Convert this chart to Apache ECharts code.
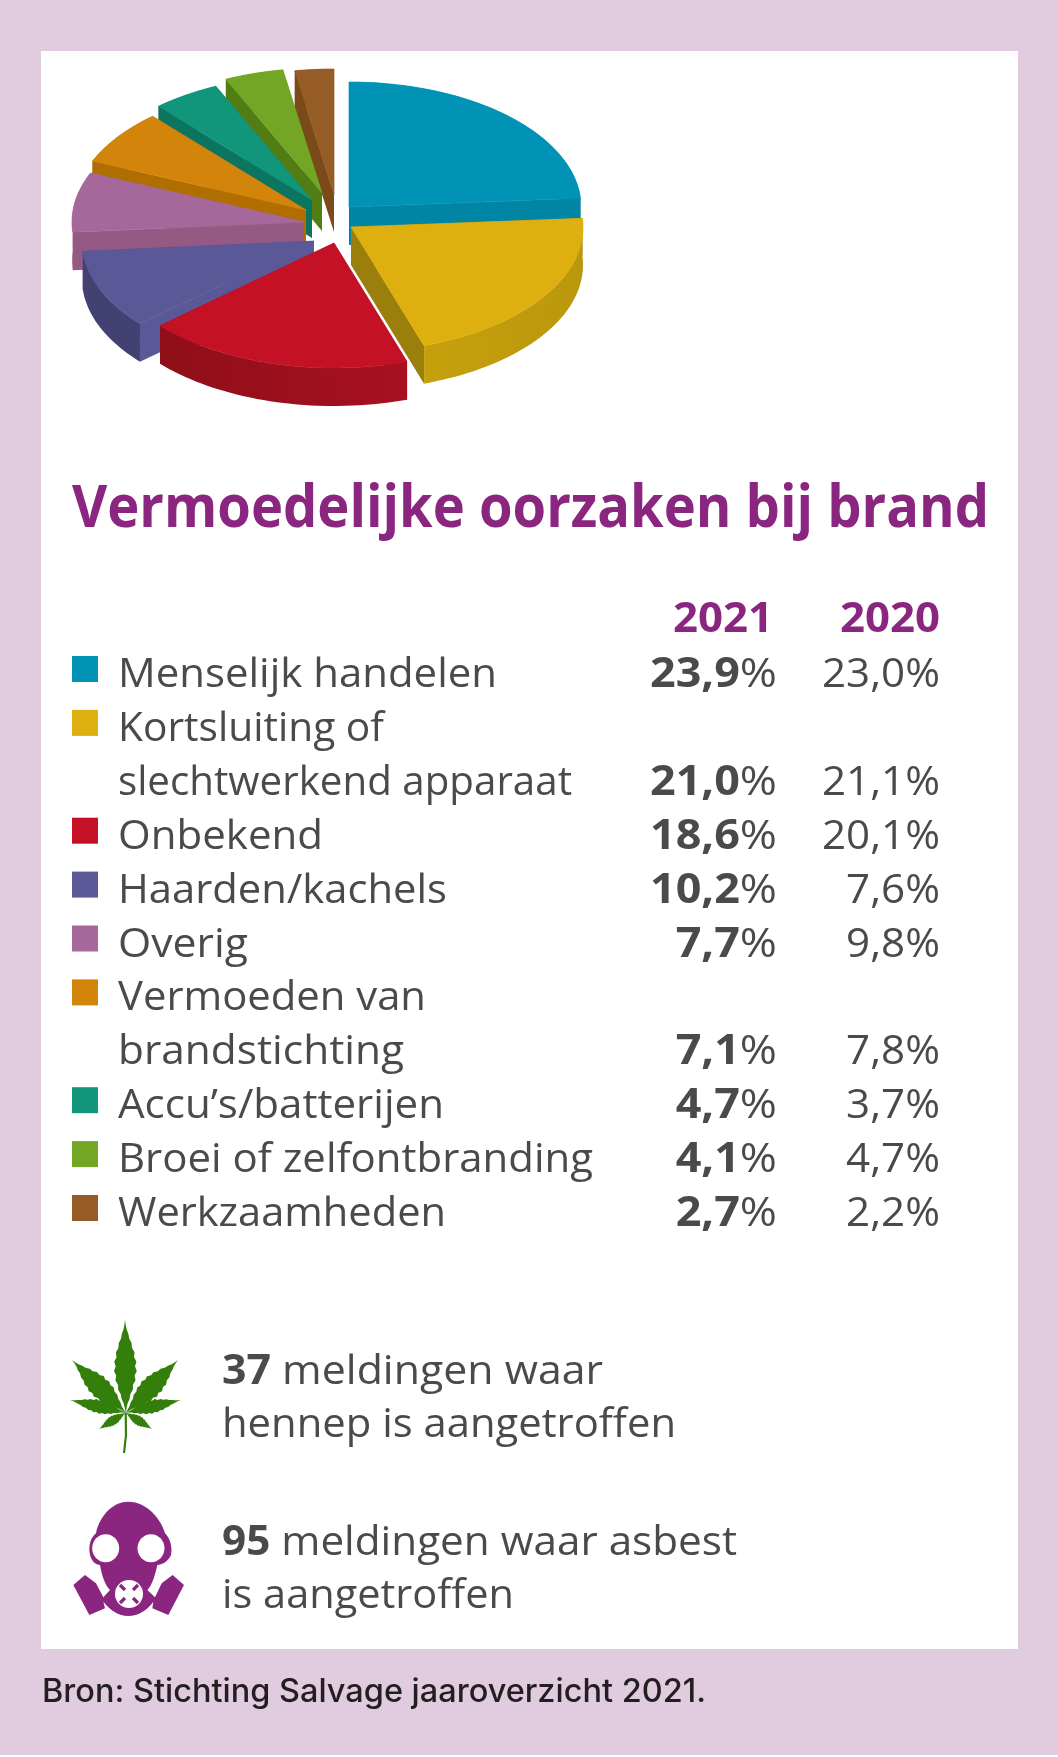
<!DOCTYPE html>
<html><head><meta charset="utf-8">
<style>html,body{margin:0;padding:0;background:#fff}#c{width:1058px;height:1757px}</style>
<script src="https://cdn.jsdelivr.net/npm/echarts@6/dist/echarts.min.js"></script>
</head><body><div id="c"></div>
<script>
// ---- data ----
const causes = ['Menselijk handelen','Kortsluiting of\nslechtwerkend apparaat','Onbekend','Haarden/kachels','Overig','Vermoeden van\nbrandstichting','Accu\u2019s/batterijen','Broei of zelfontbranding','Werkzaamheden'];
const values2021 = [23.9,21.0,18.6,10.2,7.7,7.1,4.7,4.1,2.7];
const values2020 = [23.0,21.1,20.1,7.6,9.8,7.8,3.7,4.7,2.2];
const years = ['2021','2020'];
const chartTitle = 'Vermoedelijke oorzaken bij brand';
const notes = [['37',' meldingen waar','hennep is aangetroffen'],['95',' meldingen waar asbest','is aangetroffen']];
const source = 'Bron: Stichting Salvage jaaroverzicht 2021.';

// ---- styling ----
const topColors  = ['#0093b6','#deb00f','#c41126','#5a5896','#a6689b','#d3840b','#11967c','#73a625','#955c25'];
const sideColors = ['#0086a4','#9a7f0d','#8f0f18','#5a5896','#955a84','#b06e00','#0b7560','#527d14','#7a4a18'];
const wallFrom   = ['#0086a4','#c6a00c','#8f0f18','#434172','#955a84','#b06e00','#0b7560','#527d14','#7a4a18'];
const wallTo     = ['#0086a4','#bb970c','#a81020','#434172','#955a84','#b06e00','#0b7560','#527d14','#7a4a18'];
const explodeX = [19,21,4,-16,-26,-24,-18,-8,4];
const explodeY = [-8,12,28,26,7,-5,-15,-22,-21];
const zOrder = [6,7,8,5,4,3,2,1,0]; // paint rank of each slice
const PIE = {cx:330, cy:215, rx:232, ry:125, depth:38};
const PURPLE='#8b2680', GREY='#4a4a4a', PINK='#e1cbdf', LEAF='#347f0c';
const BODY='"Open Sans"';
const labelEnds = [[497],[384,572],[323],[447],[248],[426,404],[444],[593],[446]];
const noteEnds = [[603,676],[737,514]];

const total = values2021.reduce((a,b)=>a+b,0);
const starts = values2021.map((_,i)=>values2021.slice(0,i).reduce((a,b)=>a+b,0)/total*Math.PI*2);

function arc(cx,cy,a0,a1){const n=Math.max(2,Math.ceil((a1-a0)/0.03));const p=[];
  for(let i=0;i<=n;i++){const a=a0+(a1-a0)*i/n;p.push([cx+PIE.rx*Math.sin(a),cy-PIE.ry*Math.cos(a)]);}return p;}

function renderSlice(params,api){
  const i=params.dataIndex, share=api.value(0)/total*Math.PI*2, a0=starts[i], a1=a0+share;
  const cx=PIE.cx+explodeX[i], cy=PIE.cy+explodeY[i], d=PIE.depth;
  const rim=arc(cx,cy,a0,a1), rimLow=rim.map(p=>[p[0],p[1]+d]);
  const apex=[cx,cy], apexLow=[cx,cy+d];
  const z=zOrder[i]*10;
  const poly=(points,fill,dz,stroke)=>({type:'polygon',z2:z+dz,shape:{points},style:{fill,stroke:stroke||null,lineWidth:stroke?0.7:0}});
  return {type:'group',children:[
    poly([apex,rim[0],rimLow[0],apexLow],sideColors[i],0),
    poly([apex,rim[rim.length-1],rimLow[rimLow.length-1],apexLow],sideColors[i],1),
    poly(rim.concat(rimLow.slice().reverse()),new echarts.graphic.LinearGradient(0,0,1,0,[{offset:0,color:wallFrom[i]},{offset:1,color:wallTo[i]}]),2),
    poly([apex].concat(rim),topColors[i],3,topColors[i])
  ]};
}

// ---- text helpers ----
const ctx=document.createElement('canvas').getContext('2d');
function fontStr(w,s,f){return w+' '+s+'px '+f;}
function baseOffset(w,s,f){ctx.font=fontStr(w,s,f);ctx.textBaseline='middle';const d=ctx.measureText('H').actualBoundingBoxDescent;ctx.textBaseline='alphabetic';return d;}
function widthOf(t,w,s,f){ctx.font=fontStr(w,s,f);ctx.textBaseline='alphabetic';return ctx.measureText(t).width;}

const BODY_SIZE=41, BODY_SX=378/widthOf('Menselijk handelen',400,BODY_SIZE,BODY);
const BOLDW=700;
const TITLE_SIZE=59, TITLE_SX=917/widthOf(chartTitle,BOLDW,TITLE_SIZE,BODY);
const YEAR_SIZE=42, YEAR_SX=100/widthOf('2021',BOLDW,YEAR_SIZE,BODY);
const VAL1_SX=127/(widthOf('23,9',BOLDW,BODY_SIZE,BODY)+widthOf('%',400,BODY_SIZE,BODY));
const VAL2_SX=118/widthOf('23,0%',400,BODY_SIZE,BODY);
const SRC_FONT='Inter', SRC_SIZE=32, SRC_SX=664/widthOf(source,500,SRC_SIZE,SRC_FONT);

function txt(x,base,t,o){o=o||{};const w=o.weight||400,s=o.size||BODY_SIZE,f=o.family||BODY;
  return {type:'text',z:20,silent:true,x,y:base-baseOffset(w,s,f),scaleX:o.sx||BODY_SX,
    style:{text:t,fill:o.fill||GREY,fontFamily:f,fontSize:s,fontWeight:w,align:o.align||'left',verticalAlign:'middle',rich:o.rich}};}
const richTok={b:{fontFamily:BODY,fontSize:BODY_SIZE,fontWeight:BOLDW,fill:GREY},r:{fontFamily:BODY,fontSize:BODY_SIZE,fontWeight:400,fill:GREY}};
const fmt=v=>v.toFixed(1).replace('.',',');

const els=[];
els.push({type:'rect',z:-5,silent:true,shape:{x:0,y:0,width:1058,height:1755},style:{fill:PINK}});
els.push({type:'rect',z:-4,silent:true,shape:{x:41,y:51,width:977,height:1598},style:{fill:'#fff'}});
els.push(txt(72,527,chartTitle,{weight:BOLDW,size:TITLE_SIZE,sx:TITLE_SX,fill:PURPLE}));
els.push(txt(773,632,years[0],{weight:BOLDW,size:YEAR_SIZE,sx:YEAR_SX,fill:PURPLE,align:'right'}));
els.push(txt(940,632,years[1],{weight:BOLDW,size:YEAR_SIZE,sx:YEAR_SX,fill:PURPLE,align:'right'}));

const ROW0=687, PITCH=53.9; let line=0;
causes.forEach((name,i)=>{
  const parts=name.split('\n');
  els.push({type:'rect',z:20,silent:true,shape:{x:72,y:ROW0+PITCH*line-31,width:26,height:26},style:{fill:topColors[i]}});
  parts.forEach((p,k)=>{els.push(txt(118,ROW0+PITCH*(line+k),p,{sx:(labelEnds[i][k]-118)/widthOf(p,400,BODY_SIZE,BODY)}));});
  const last=ROW0+PITCH*(line+parts.length-1);
  els.push(txt(777,last,'{b|'+fmt(values2021[i])+'}{r|%}',{align:'right',rich:richTok,sx:VAL1_SX}));
  els.push(txt(940,last,fmt(values2020[i])+'%',{align:'right',sx:VAL2_SX}));
  line+=parts.length;
});

function note(n,ends,b1,b2){
  const w1=widthOf(n[0],BOLDW,BODY_SIZE,BODY)+widthOf(n[1],400,BODY_SIZE,BODY);
  els.push(txt(222,b1,'{b|'+n[0]+'}{r|'+n[1]+'}',{rich:richTok,sx:(ends[0]-222)/w1}));
  els.push(txt(222,b2,n[2],{sx:(ends[1]-222)/widthOf(n[2],400,BODY_SIZE,BODY)}));
}
note(notes[0],noteEnds[0],1384,1437); note(notes[1],noteEnds[1],1555,1608);
els.push(txt(42,1702,source,{family:SRC_FONT,size:SRC_SIZE,weight:500,sx:SRC_SX,fill:'#231f20'}));

// ---- cannabis leaf icon ----
function leaflet(bx,by,tx,ty,hw){const dx=tx-bx,dy=ty-by,L=Math.hypot(dx,dy),ux=dx/L,uy=dy/L,nx=-uy,ny=ux,N=20,a=[],b=[];
  for(let i=0;i<=N;i++){const t=i/N,prof=Math.pow(Math.sin(Math.PI*Math.pow(t,0.95)),1.5),w=hw*prof*(i%2?1:0.84);
    const px=bx+dx*t,py=by+dy*t;a.push([px+nx*w,py+ny*w]);b.unshift([px-nx*w,py-ny*w]);}
  return {type:'polygon',z:20,silent:true,shape:{points:a.concat(b)},style:{fill:LEAF}};}
const LX=125.7,LY=1412.7;
[[125,1320,11.5],[72,1360,11],[178,1360,11],[70,1400,7],[181,1400,7],[99,1429,5],[152,1429,5]].forEach(l=>els.push(leaflet(LX,LY,l[0],l[1],l[2])));
els.push({type:'polyline',z:20,silent:true,shape:{points:[[LX,LY],[126,1435],[124,1453]]},style:{stroke:LEAF,lineWidth:2.2,fill:null}});

// ---- gas mask icon (drawn by its own small custom series) ----
const maskPath='M205 35 C150 35 115 90 108 130 C90 145 85 170 90 195 C95 215 108 225 120 225 C125 255 135 285 150 300 L130 322 L108 280 L75 255 L40 285 L88 375 L135 355 L130 335 C150 360 175 378 205 378 C235 378 262 360 280 335 L277 355 L325 375 L372 285 L338 255 L305 280 L285 322 L262 300 C277 285 285 255 292 225 C305 225 325 215 333 195 C338 170 330 145 315 130 C305 90 262 35 205 35 Z';
const m=(x,y)=>[60+x/3,1490+y/3];
function renderMask(){
  const fc=m(207,312), kids=[];
  const tl=m(40,35), br=m(372,378);
  kids.push({type:'path',shape:{pathData:maskPath,x:tl[0],y:tl[1],width:br[0]-tl[0],height:br[1]-tl[1],layout:'cover'},style:{fill:PURPLE}});
  [[137,175],[273,175]].forEach(e=>{const c=m(e[0],e[1]);kids.push({type:'ellipse',shape:{cx:c[0],cy:c[1],rx:13.5,ry:14},style:{fill:'#fff'}});});
  kids.push({type:'circle',shape:{cx:fc[0],cy:fc[1],r:14},style:{fill:'#fff'}});
  [[-1,-1],[1,-1],[-1,1],[1,1]].forEach(s=>kids.push({type:'line',shape:{x1:fc[0]+s[0]*4,y1:fc[1]+s[1]*4,x2:fc[0]+s[0]*9,y2:fc[1]+s[1]*9},style:{stroke:PURPLE,lineWidth:3.2}}));
  return {type:'group',children:kids};
}

const chart=echarts.init(document.getElementById('c'),null,{renderer:'canvas',width:1058,height:1757});
chart.setOption({
  animation:false,
  backgroundColor:'#fff',
  tooltip:{show:false},
  graphic:{elements:els},
  series:[{type:'custom',name:'2021',coordinateSystem:'none',silent:true,z:5,
    renderItem:renderSlice,
    data:values2021.map((v,i)=>({name:causes[i],value:[v]}))},
    {type:'custom',name:'icon',coordinateSystem:'none',silent:true,z:6,renderItem:renderMask,data:[[1]]}]
});
</script></body></html>
